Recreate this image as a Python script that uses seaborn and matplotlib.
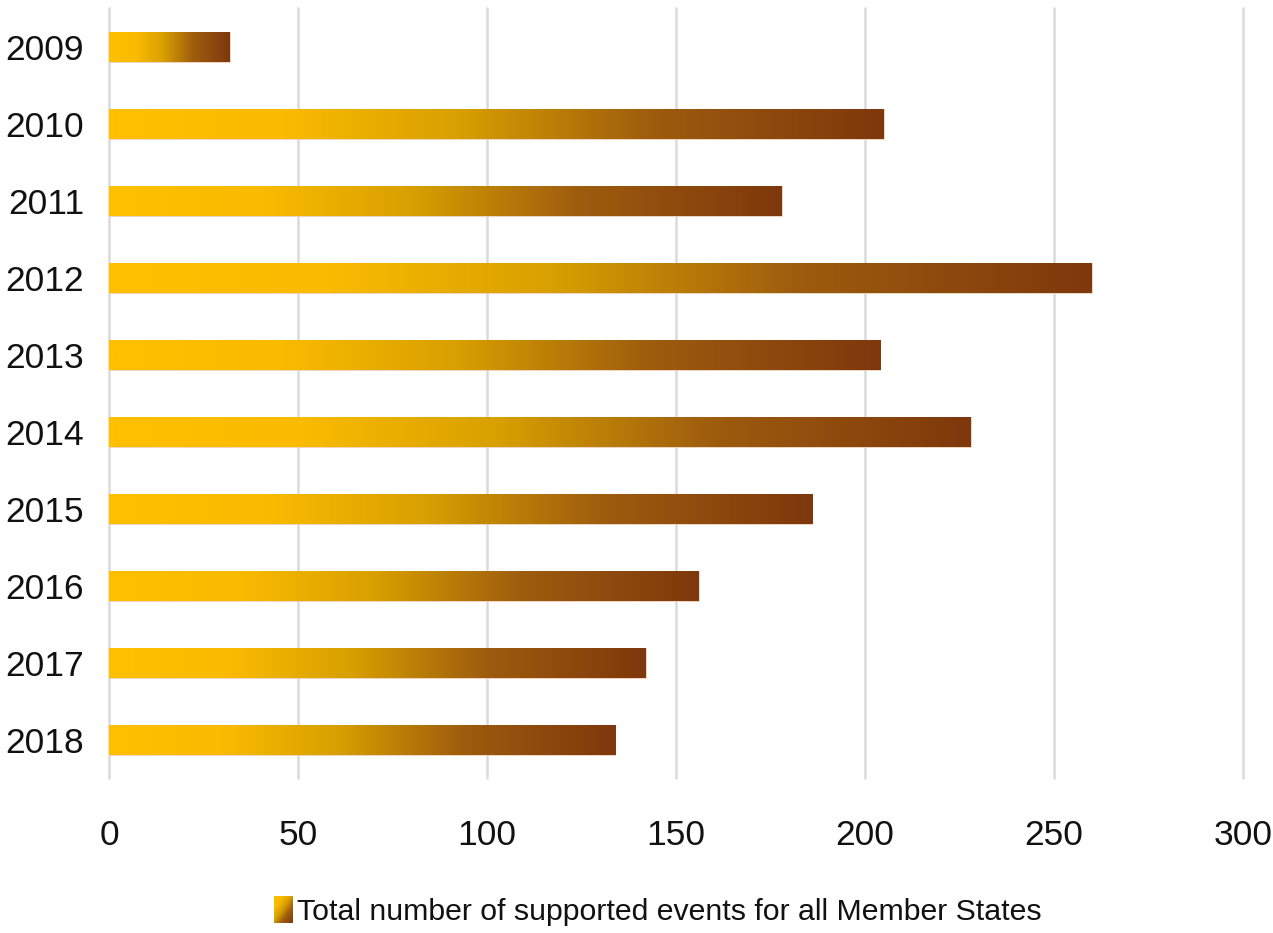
import numpy as np
import pandas as pd
import seaborn as sns
import matplotlib.pyplot as plt
from matplotlib.colors import LinearSegmentedColormap
from matplotlib.patches import Patch
from matplotlib.legend_handler import HandlerBase
from matplotlib.image import BboxImage
from matplotlib.transforms import Bbox, TransformedBbox

years = ['2009', '2010', '2011', '2012', '2013', '2014', '2015', '2016', '2017', '2018']
events = [32, 205, 178, 260, 204, 228, 186, 156, 142, 134]
label = 'Total number of supported events for all Member States'

sns.set_style('white')
plt.rcParams['font.family'] = ['Liberation Sans', 'DejaVu Sans']

cmap = LinearSegmentedColormap.from_list('gold', [
    (0.0, '#FFC000'), (0.22, '#FABB00'), (0.45, '#D8A000'),
    (0.7, '#9E5C0E'), (1.0, '#7E380C')])
grad = np.linspace(0, 1, 256).reshape(1, -1)

df = pd.DataFrame({'year': years, 'events': events})

fig = plt.figure(figsize=(12.73, 9.33), dpi=100)
ax = fig.add_axes([0.0856, 0.1656, 0.8908, 0.8253])
sns.barplot(data=df, x='events', y='year', orient='h', width=0.39,
            color='#FFC000', ax=ax)

# gradient fill for each bar
for p in ax.patches:
    x0, y0 = p.get_x(), p.get_y()
    w, h = p.get_width(), p.get_height()
    p.set_facecolor('none')
    p.set_edgecolor('#EBCDB5')
    p.set_linewidth(0.6)
    im = ax.imshow(grad, cmap=cmap, aspect='auto', extent=[x0, x0 + w, y0 + h, y0],
                   interpolation='bilinear', zorder=2)
    im.set_clip_path(p)

ax.set_xlim(0, 300)
ax.set_ylim(9.5, -0.5)
ax.set_xticks(range(0, 301, 50))
ax.xaxis.grid(True, color='#DADADA', linewidth=1.8, clip_on=False)
ax.set_axisbelow(True)
for s in ax.spines.values():
    s.set_visible(False)
ax.tick_params(axis='both', length=0, labelsize=25.5, colors='#111111')
ax.tick_params(axis='x', pad=29)
ax.tick_params(axis='y', pad=18)
ax.set_xlabel('')
ax.set_ylabel('')


class GradHandler(HandlerBase):
    def create_artists(self, legend, orig_handle, xdescent, ydescent,
                       width, height, fontsize, trans):
        s = height * 1.25
        bb = Bbox.from_bounds(width - s * 0.7, -ydescent - height * 0.12, s * 0.7, s)
        img = BboxImage(TransformedBbox(bb, trans), cmap=cmap, interpolation='bilinear')
        yy, xx = np.mgrid[0:1:32j, 0:1:32j]
        img.set_data(0.25 + (xx + yy) * 0.375)
        return [img]


fig.legend([Patch()], [label], handler_map={Patch: GradHandler()},
           loc='center', bbox_to_anchor=(0.518, 0.022), frameon=False,
           fontsize=21.8, handlelength=0.5, handletextpad=0.15, labelcolor='#111111')

fig.savefig('out.png', dpi=100)
